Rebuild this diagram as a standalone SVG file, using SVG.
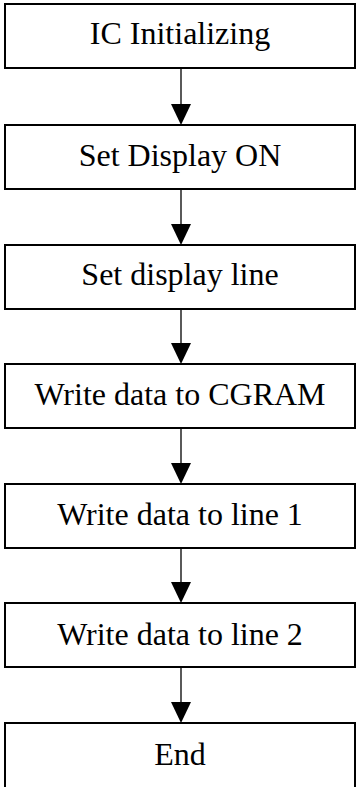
<svg xmlns="http://www.w3.org/2000/svg" width="357" height="787" viewBox="0 0 357 787">
<style>
.box{fill:#fff;stroke:#000;stroke-width:2}
.lbl{font-family:"Liberation Serif","Times New Roman",serif;font-size:32px;fill:#000;text-anchor:middle}
.conn{stroke:#000;stroke-width:1.3;fill:none}
.head{fill:#000}
</style>
<defs>
<polygon id="ah" class="head" points="-10,0 10,0 0,21"/>
</defs>
<rect x="0" y="0" width="357" height="787" fill="#fff"/>
<g id="connectors">
<line class="conn" x1="181" y1="68" x2="181" y2="106"/><use href="#ah" x="181" y="104"/>
<line class="conn" x1="181" y1="189" x2="181" y2="226"/><use href="#ah" x="181" y="224"/>
<line class="conn" x1="181" y1="309" x2="181" y2="345"/><use href="#ah" x="181" y="343"/>
<line class="conn" x1="181" y1="428" x2="181" y2="465"/><use href="#ah" x="181" y="463"/>
<line class="conn" x1="181" y1="548" x2="181" y2="584"/><use href="#ah" x="181" y="582"/>
<line class="conn" x1="181" y1="667" x2="181" y2="704"/><use href="#ah" x="181" y="702"/>
</g>
<g id="n1"><rect class="box" x="5" y="4" width="350" height="64"/><text class="lbl" x="180" y="44">IC Initializing</text></g>
<g id="n2"><rect class="box" x="5" y="125" width="350" height="64"/><text class="lbl" x="180" y="166">Set Display ON</text></g>
<g id="n3"><rect class="box" x="5" y="245" width="350" height="64"/><text class="lbl" x="180" y="285">Set display line</text></g>
<g id="n4"><rect class="box" x="5" y="364" width="350" height="64"/><text class="lbl" x="180" y="405">Write data to CGRAM</text></g>
<g id="n5"><rect class="box" x="5" y="484" width="350" height="64"/><text class="lbl" x="180" y="525">Write data to line 1</text></g>
<g id="n6"><rect class="box" x="5" y="603" width="350" height="64"/><text class="lbl" x="180" y="645">Write data to line 2</text></g>
<g id="n7"><rect class="box" x="5" y="723" width="350" height="80"/><text class="lbl" x="180" y="765">End</text></g>
</svg>
